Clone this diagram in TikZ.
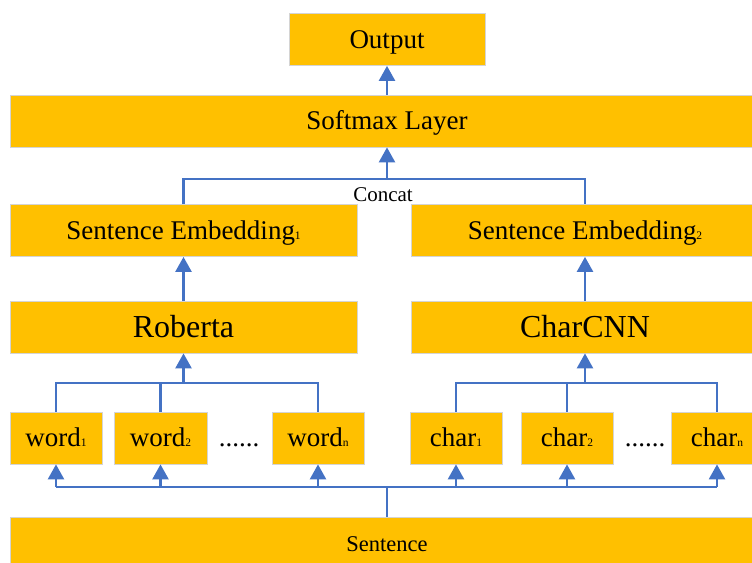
\documentclass[tikz,border=0pt]{standalone}
\usepackage{fontspec}
\setmainfont{Liberation Serif}
\usetikzlibrary{arrows.meta}
\definecolor{boxfill}{HTML}{FFC000}
\definecolor{boxline}{HTML}{D4D4D4}
\definecolor{linkblue}{HTML}{4472C4}
\newcommand\sbs[1]{{\fontsize{11.5}{11.5}\selectfont #1}}
\begin{document}
\begin{tikzpicture}[x=1pt,y=-1pt,
  blk/.style={draw=boxline, line width=0.8pt, fill=boxfill, inner sep=0pt,
    minimum height=52pt, font=\fontsize{27}{30}\selectfont,
    text height=20pt, text depth=3pt},
  bigblk/.style={blk, font=\fontsize{32}{36}\selectfont, text height=24pt, text depth=4pt},
  sentblk/.style={blk, font=\fontsize{22.5}{26}\selectfont, text height=17pt, text depth=2pt},
  dotsnode/.style={inner sep=0pt, font=\fontsize{27}{30}\selectfont, text height=20pt, text depth=3pt},
  link/.style={draw=linkblue, line width=2.5pt},
  arr/.style={link, -{Triangle[width=16pt,length=15pt]}}
]
\useasboundingbox (0,0) rectangle (752,562);
\clip (0,0) rectangle (752,562);

% boxes
\node[blk, minimum width=196pt] (out) at (387,39.5) {Output};
\node[blk, minimum width=754pt] (soft) at (387,121) {Softmax Layer};
\node[blk, minimum width=347pt] (se1) at (183.5,230.5) {Sentence Embedding\sbs{1}};
\node[blk, minimum width=347pt] (se2) at (585,230.5) {Sentence Embedding\sbs{2}};
\node[bigblk, minimum width=347pt] (rob) at (183.5,327) {Roberta};
\node[bigblk, minimum width=347pt] (cnn) at (585,327) {CharCNN};

\node[blk, minimum width=92pt] (w1) at (56,438) {word\sbs{1}};
\node[blk, minimum width=93pt] (w2) at (160.5,438) {word\sbs{2}};
\node[dotsnode] (d1) at (239,438) {......};
\node[blk, minimum width=92pt] (wn) at (318,438) {word\sbs{n}};
\node[blk, minimum width=92pt] (c1) at (456,438) {char\sbs{1}};
\node[blk, minimum width=92pt] (c2) at (567,438) {char\sbs{2}};
\node[dotsnode] (d2) at (645,438) {......};
\node[blk, minimum width=92pt] (cn) at (717,438) {char\sbs{n}};

\node[sentblk, minimum width=754pt, minimum height=53pt] (sent) at (387,543.5) {Sentence};

\node[inner sep=0pt, anchor=base, font=\fontsize{21}{24}\selectfont] (concat) at (383,201) {Concat};

% junctions
\coordinate (cj) at (387,179);
\coordinate (wj) at (183.5,383);
\coordinate (cjr) at (585,383);
\coordinate (sj) at (387,487);

% top
\draw[arr] (soft.north -| out.south) -- (out.south);
\draw[link] (se1.north) -- (se1.north |- cj) -- (se2.north |- cj) -- (se2.north);
\draw[arr] (cj) -- (soft.south -| cj);
\draw[arr] (rob.north) -- (se1.south);
\draw[arr] (cnn.north) -- (se2.south);

% words to Roberta
\draw[link] (w1.north) -- (w1.north |- wj) -- (wn.north |- wj) -- (wn.north);
\draw[link] (w2.north) -- (w2.north |- wj);
\draw[arr] (wj) -- (rob.south);
% chars to CharCNN
\draw[link] (c1.north) -- (c1.north |- cjr) -- (cn.north |- cjr) -- (cn.north);
\draw[link] (c2.north) -- (c2.north |- cjr);
\draw[arr] (cjr) -- (cnn.south);

% sentence to tokens
\draw[link] (sent.north -| sj) -- (sj);
\draw[link] (w1.south |- sj) -- (cn.south |- sj);
\foreach \t in {w1,w2,wn,c1,c2,cn}{
  \draw[arr] (\t.south |- sj) -- (\t.south);
}
\end{tikzpicture}
\end{document}
